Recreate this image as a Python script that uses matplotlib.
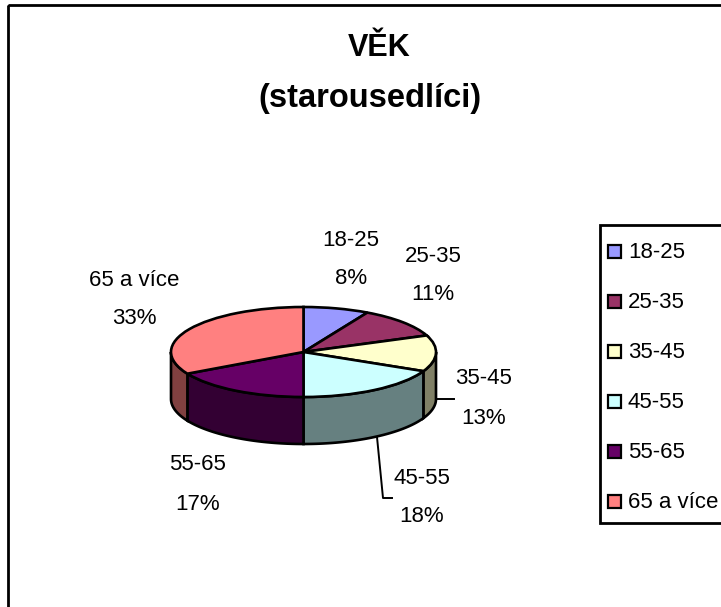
"""
VEK pie chart, drawn with a fake 3D side.
"""
import numpy as np
import matplotlib
matplotlib.use("Agg")
import matplotlib.pyplot as plt
from matplotlib.patches import Rectangle

categories = ["18-25", "25-35", "35-45", "45-55", "55-65", "65 a více"]
values = [8, 11, 13, 18, 17, 33]
top_colors = ["#9999FF", "#993366", "#FFFFCC", "#CCFFFF", "#660066", "#FF8080"]
side_colors = ["#4C4C80", "#4C1A33", "#808066", "#668080", "#330033", "#804040"]
title_lines = ["VĚK", "(starousedlíci)"]

W, H = 721, 607
plt.rcParams["font.family"] = ["Liberation Sans"]

fig = plt.figure(figsize=(W / 100, H / 100), dpi=100, facecolor="white")

# background axes in pixel coordinates, for frame, texts and legend
bg = fig.add_axes([0, 0, 1, 1])
bg.set_xlim(0, W)
bg.set_ylim(H, 0)
bg.axis("off")

bg.add_patch(Rectangle((8, 5), W, H, fill=False, ec="black", lw=2))

bg.text(379, 48, title_lines[0], ha="center", va="center", fontsize=22, fontweight="bold")
bg.text(369.5, 98, title_lines[1], ha="center", va="center", fontsize=23.5, fontweight="bold")

label_pos = [(351, 240, 279), (433, 256, 295), (484, 379, 418),
             (422, 478, 517), (198, 465, 504), (134, 280, 318)]
for cat, val, (x, y1, y2) in zip(categories, values, label_pos):
    bg.text(x, y1, cat, ha="center", va="center", fontsize=16)
    bg.text(x, y2, "%d%%" % val, ha="center", va="center", fontsize=16)

# leader lines
bg.plot([437, 454], [399, 399], color="black", lw=1.4)
bg.plot([377, 383, 392], [437, 498, 498], color="black", lw=1.4)

# legend
bg.add_patch(Rectangle((600, 225), W, 298, fc="white", ec="black", lw=2))
legend_y = [252, 302, 352, 402, 452, 502]
for cat, col, y in zip(categories, top_colors, legend_y):
    bg.add_patch(Rectangle((608, y - 7), 13, 13, fc=col, ec="black", lw=1.6))
    bg.text(628, y, cat, ha="left", va="center", fontsize=16)

# pie axes cover exactly the bounding box of the top ellipse
cx, cy, rx, ry, depth = 303.5, 352, 132.5, 45, 47
ax = fig.add_axes([(cx - rx) / W, 1 - (cy + ry) / H, 2 * rx / W, 2 * ry / H])
ax.patch.set_alpha(0)
ax.axis("off")
ax.pie(values, colors=top_colors, startangle=90, counterclock=False, radius=1,
       wedgeprops={"edgecolor": "black", "linewidth": 1.9})
ax.set_aspect("auto")
ax.set_xlim(-1, 1)
ax.set_ylim(-1, 1)

# side wall, only the part of each slice on the front half
d = depth / ry
edges = 90 - np.cumsum([0] + values) * 3.6
for i, col in enumerate(side_colors):
    a0, a1 = edges[i + 1] % 360, edges[i] % 360
    if a1 <= a0:
        a1 += 360
    lo = max(a0, 180)
    hi = min(a1, 360)
    if hi <= lo:
        continue
    t = np.radians(np.linspace(lo, hi, 60))
    xs = np.concatenate([np.cos(t), np.cos(t[::-1])])
    ys = np.concatenate([np.sin(t), np.sin(t[::-1]) - d])
    ax.fill(xs, ys, facecolor=col, edgecolor="black", linewidth=1.9, clip_on=False, zorder=0.5)

fig.savefig("out.png", dpi=100)
